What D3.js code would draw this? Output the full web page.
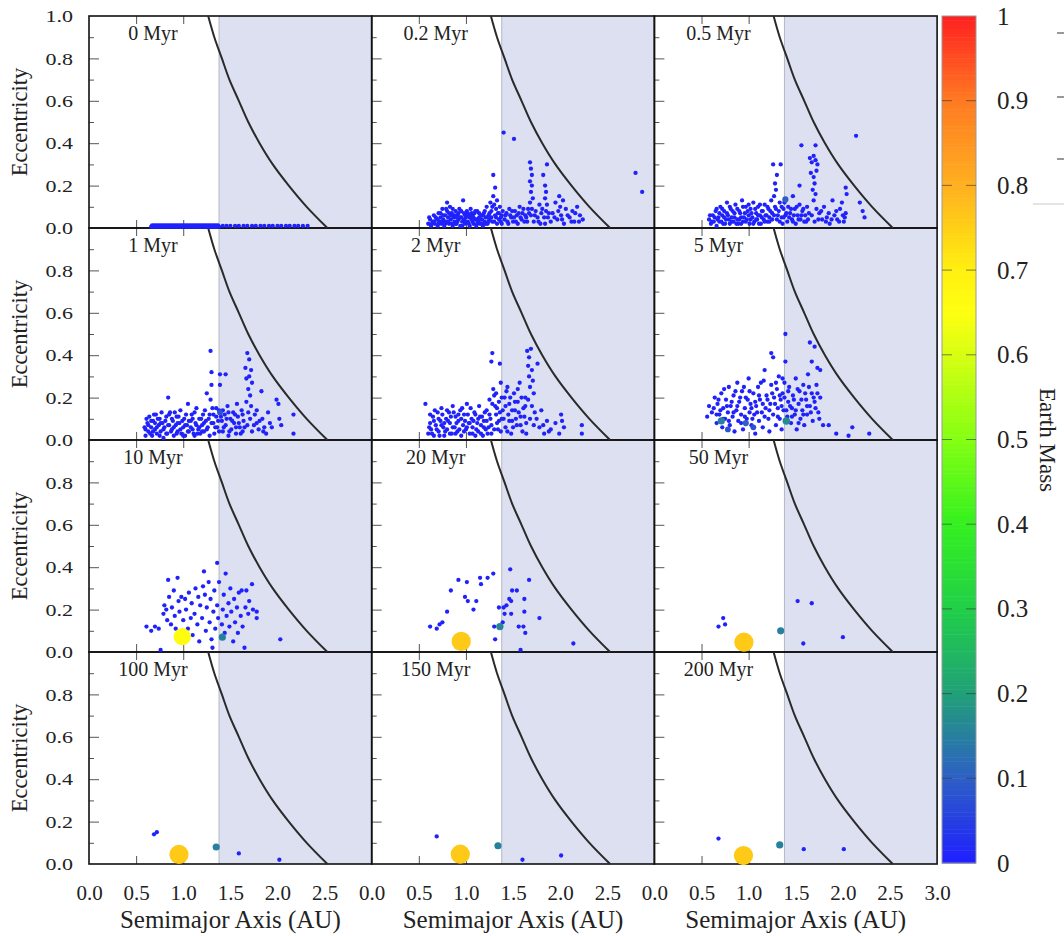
<!DOCTYPE html>
<html>
<head>
<meta charset="utf-8">
<script src="https://cdn.jsdelivr.net/npm/d3@7"></script>
<style>
  body { margin: 0; background: #fff; }
</style>
</head>
<body>
<div class="chart"></div>
<script>
// panel titles, row by row
var panelLabels = ["0 Myr", "0.2 Myr", "0.5 Myr", "1 Myr", "2 Myr", "5 Myr",
                   "10 Myr", "20 Myr", "50 Myr", "100 Myr", "150 Myr", "200 Myr"];

// small bodies [a (AU), e] per snapshot
var p0 = [[0.66,0.006],[0.67,0.012],[0.68,0.006],[0.69,0.012],[0.70,0.006],[0.71,0.012],[0.72,0.006],[0.73,0.012],[0.74,0.006],[0.75,0.012],
  [0.76,0.006],[0.77,0.012],[0.78,0.006],[0.79,0.012],[0.80,0.006],[0.81,0.012],[0.82,0.006],[0.83,0.012],[0.84,0.006],[0.85,0.012],
  [0.86,0.006],[0.87,0.012],[0.88,0.006],[0.89,0.012],[0.90,0.006],[0.91,0.012],[0.92,0.006],[0.93,0.012],[0.94,0.006],[0.95,0.012],
  [0.96,0.006],[0.97,0.012],[0.98,0.006],[0.99,0.012],[1.00,0.006],[1.01,0.012],[1.02,0.006],[1.03,0.012],[1.04,0.006],[1.05,0.012],
  [1.06,0.006],[1.07,0.012],[1.08,0.006],[1.09,0.012],[1.10,0.006],[1.11,0.012],[1.12,0.006],[1.13,0.012],[1.14,0.006],[1.15,0.012],
  [1.16,0.006],[1.17,0.012],[1.18,0.006],[1.19,0.012],[1.20,0.006],[1.21,0.012],[1.22,0.006],[1.23,0.012],[1.24,0.006],[1.25,0.012],
  [1.26,0.006],[1.27,0.012],[1.28,0.006],[1.29,0.012],[1.30,0.006],[1.31,0.012],[1.32,0.006],[1.33,0.012],[1.34,0.006],[1.35,0.012],
  [1.36,0.006],[1.37,0.012],[1.38,0.006],
  [1.42,0.01],[1.46,0.01],[1.50,0.01],[1.55,0.01],[1.59,0.01],[1.64,0.01],[1.68,0.01],[1.73,0.01],[1.77,0.01],[1.82,0.01],
  [1.86,0.01],[1.91,0.01],[1.95,0.01],[2.00,0.01],[2.04,0.01],[2.09,0.01],[2.13,0.01],[2.18,0.01],[2.22,0.01],[2.27,0.01],[2.32,0.01]];

var p02 = [[0.60,0.02],[0.62,0.04],[0.63,0.01],[0.65,0.03],[0.66,0.06],[0.67,0.02],[0.69,0.04],[0.70,0.01],[0.71,0.07],[0.72,0.03],
  [0.73,0.05],[0.74,0.02],[0.75,0.09],[0.76,0.04],[0.77,0.01],[0.78,0.06],[0.79,0.03],[0.80,0.12],[0.80,0.08],[0.81,0.05],
  [0.82,0.02],[0.83,0.10],[0.84,0.04],[0.85,0.07],[0.86,0.01],[0.87,0.05],[0.88,0.03],[0.89,0.08],[0.90,0.02],[0.91,0.06],
  [0.92,0.04],[0.93,0.09],[0.94,0.01],[0.95,0.05],[0.96,0.03],[0.97,0.13],[0.98,0.07],[0.99,0.02],[1.00,0.05],[1.01,0.08],
  [1.02,0.03],[1.03,0.06],[1.04,0.01],[1.05,0.09],[1.06,0.04],[1.07,0.06],[1.08,0.02],[1.09,0.07],[1.10,0.04],[1.11,0.01],
  [1.12,0.08],[1.13,0.03],[1.14,0.05],[1.15,0.02],[1.16,0.06],[1.17,0.04],[1.18,0.01],[1.19,0.07],[1.20,0.03],[1.21,0.05],
  [1.22,0.10],[1.23,0.02],[1.24,0.06],[1.25,0.04],[1.26,0.12],[1.27,0.08],[1.28,0.03],[1.29,0.25],[1.29,0.15],[1.30,0.11],
  [1.31,0.19],[1.31,0.06],[1.32,0.09],[1.33,0.02],[1.34,0.07],[1.35,0.04],[1.36,0.10],[1.37,0.05],[1.38,0.02],[1.39,0.08],
  [1.40,0.45],[1.51,0.42],[1.41,0.04],[1.43,0.07],[1.45,0.02],[1.46,0.09],[1.48,0.05],[1.50,0.03],[1.52,0.08],[1.54,0.06],
  [1.55,0.02],[1.57,0.10],[1.59,0.04],[1.60,0.07],[1.62,0.03],[1.64,0.05],[1.66,0.09],
  [1.68,0.31],[1.69,0.28],[1.70,0.25],[1.68,0.22],[1.70,0.20],[1.69,0.17],[1.71,0.14],[1.68,0.12],[1.70,0.09],[1.69,0.06],[1.72,0.03],
  [1.74,0.08],[1.76,0.05],[1.78,0.11],[1.79,0.02],[1.80,0.07],
  [1.82,0.25],[1.86,0.30],[1.84,0.20],[1.85,0.17],[1.84,0.14],[1.86,0.11],[1.85,0.08],[1.87,0.05],[1.84,0.02],
  [1.92,0.07],[1.95,0.12],[1.97,0.04],[1.99,0.15],[2.00,0.10],[2.01,0.06],[2.03,0.13],[2.04,0.02],[2.06,0.09],
  [2.10,0.05],[2.13,0.08],[2.15,0.03],[2.18,0.10],[2.21,0.06],[2.24,0.04],[2.80,0.26],[2.87,0.17],
  [0.61,0.05],[0.64,0.02],[0.66,0.03],[0.68,0.05],[0.70,0.04],[0.71,0.02],[0.73,0.07],[0.75,0.03],[0.76,0.06],[0.78,0.02],
  [0.79,0.09],[0.81,0.03],[0.82,0.07],[0.84,0.06],[0.85,0.02],[0.86,0.09],[0.88,0.06],[0.89,0.02],[0.90,0.05],[0.91,0.03],
  [0.92,0.07],[0.94,0.05],[0.95,0.08],[0.96,0.01],[0.98,0.04],[0.99,0.06],[1.00,0.03],[1.02,0.07],[1.03,0.02],[1.04,0.05],
  [1.06,0.07],[1.07,0.03],[1.08,0.05],[1.10,0.08],[1.11,0.04],[1.12,0.02],[1.14,0.07],[1.15,0.04],[1.17,0.02],[1.18,0.06],
  [1.20,0.08],[1.21,0.02],[1.23,0.05],[1.24,0.03],[1.25,0.07],[1.27,0.05],[1.28,0.10],[1.30,0.03],[1.32,0.05],[1.33,0.13],
  [1.35,0.07],[1.37,0.03],[1.38,0.06],[1.42,0.06],[1.44,0.03],[1.47,0.06],[1.49,0.08],[1.51,0.05],[1.53,0.03],[1.56,0.07],
  [1.58,0.05],[1.61,0.09],[1.63,0.06],[1.65,0.03],[1.67,0.07],[1.73,0.06],[1.77,0.03],[1.81,0.09],[1.83,0.05],[1.88,0.07],
  [1.90,0.03],[1.94,0.05],[1.98,0.08],[2.02,0.04],[2.08,0.06],[2.12,0.03],[2.16,0.07],[2.20,0.03]];

var p05 = [[0.58,0.04],[0.60,0.02],[0.62,0.06],[0.63,0.03],[0.65,0.08],[0.66,0.01],[0.68,0.05],[0.69,0.03],[0.70,0.10],[0.72,0.06],
  [0.73,0.02],[0.74,0.08],[0.76,0.04],[0.77,0.12],[0.78,0.06],[0.80,0.02],[0.81,0.09],[0.82,0.05],[0.84,0.03],[0.85,0.07],
  [0.86,0.11],[0.88,0.04],[0.89,0.02],[0.90,0.08],[0.92,0.05],[0.93,0.13],[0.94,0.03],[0.96,0.07],[0.97,0.10],[0.98,0.04],
  [1.00,0.06],[1.01,0.02],[1.02,0.09],[1.04,0.05],[1.05,0.12],[1.06,0.03],[1.08,0.07],[1.09,0.04],[1.10,0.10],[1.12,0.06],
  [1.13,0.02],[1.14,0.08],[1.16,0.04],[1.17,0.11],[1.18,0.06],[1.20,0.03],[1.21,0.09],[1.22,0.05],[1.24,0.13],[1.25,0.07],
  [1.26,0.30],[1.34,0.30],[1.30,0.25],[1.28,0.21],[1.29,0.18],[1.27,0.15],[1.28,0.10],[1.30,0.04],[1.32,0.08],[1.33,0.12],
  [1.35,0.05],[1.36,0.02],[1.37,0.09],[1.39,0.06],
  [1.41,0.03],[1.42,0.10],[1.44,0.07],[1.46,0.04],[1.47,0.15],[1.49,0.09],[1.50,0.02],[1.52,0.06],[1.54,0.20],[1.54,0.11],
  [1.55,0.04],[1.56,0.39],[1.57,0.08],[1.59,0.03],[1.60,0.06],[1.62,0.10],[1.63,0.04],
  [1.65,0.33],[1.67,0.31],[1.69,0.34],[1.71,0.32],[1.73,0.30],[1.66,0.26],[1.69,0.24],[1.72,0.27],[1.71,0.39],[1.70,0.21],
  [1.68,0.18],[1.71,0.16],[1.69,0.13],[1.72,0.09],[1.67,0.06],[1.70,0.03],
  [1.75,0.07],[1.78,0.04],[1.80,0.10],[1.83,0.05],[1.86,0.02],[1.89,0.13],[1.91,0.06],[1.94,0.04],[1.97,0.09],[1.99,0.12],
  [2.01,0.03],[2.03,0.19],[2.04,0.16],[2.03,0.07],[2.02,0.05],[2.14,0.435],[2.18,0.12],[2.21,0.08],[2.23,0.05],
  [0.59,0.06],[0.61,0.03],[0.64,0.05],[0.66,0.09],[0.67,0.04],[0.69,0.07],[0.71,0.03],[0.72,0.09],[0.74,0.05],[0.75,0.02],
  [0.77,0.07],[0.79,0.04],[0.80,0.10],[0.82,0.03],[0.83,0.08],[0.85,0.05],[0.87,0.02],[0.88,0.09],[0.90,0.04],[0.91,0.07],
  [0.92,0.02],[0.94,0.10],[0.95,0.05],[0.97,0.03],[0.99,0.08],[1.00,0.11],[1.02,0.04],[1.03,0.07],[1.05,0.02],[1.07,0.09],
  [1.08,0.04],[1.10,0.06],[1.11,0.02],[1.12,0.11],[1.14,0.05],[1.15,0.08],[1.17,0.03],[1.19,0.06],[1.20,0.10],[1.22,0.03],
  [1.23,0.08],[1.25,0.04],[1.27,0.06],[1.29,0.09],[1.31,0.06],[1.33,0.03],[1.35,0.10],[1.37,0.05],[1.38,0.12],[1.40,0.07],
  [1.43,0.05],[1.45,0.09],[1.47,0.03],[1.48,0.06],[1.51,0.10],[1.53,0.04],[1.56,0.06],[1.58,0.09],[1.61,0.03],[1.64,0.07],
  [1.74,0.04],[1.77,0.08],[1.82,0.03],[1.85,0.07],[1.88,0.04],[1.93,0.08],[1.96,0.03],[2.00,0.06]];

var p1 = [[0.59,0.06],[0.60,0.02],[0.62,0.08],[0.63,0.04],[0.64,0.11],[0.66,0.06],[0.67,0.02],[0.68,0.09],[0.70,0.05],[0.71,0.12],
  [0.72,0.03],[0.74,0.07],[0.75,0.10],[0.76,0.04],[0.78,0.08],[0.79,0.01],[0.80,0.06],[0.82,0.11],[0.83,0.03],[0.84,0.20],
  [0.85,0.07],[0.86,0.13],[0.88,0.05],[0.89,0.09],[0.90,0.02],[0.92,0.07],[0.93,0.11],[0.94,0.04],[0.96,0.08],[0.97,0.14],
  [0.98,0.03],[1.00,0.06],[1.01,0.10],[1.02,0.02],[1.04,0.07],[1.05,0.17],[1.06,0.04],[1.08,0.09],[1.09,0.12],[1.10,0.05],
  [1.12,0.02],[1.13,0.08],[1.14,0.15],[1.16,0.05],[1.17,0.10],[1.18,0.03],[1.20,0.07],[1.21,0.12],[1.22,0.04],[1.24,0.09],
  [1.25,0.22],[1.26,0.06],[1.28,0.12],[1.29,0.42],[1.30,0.32],[1.30,0.26],[1.29,0.19],[1.31,0.15],[1.32,0.08],[1.33,0.03],
  [1.35,0.11],[1.36,0.06],[1.38,0.14],[1.39,0.31],[1.39,0.26],[1.45,0.31],
  [1.41,0.09],[1.42,0.04],[1.44,0.12],[1.45,0.07],[1.47,0.16],[1.48,0.02],[1.50,0.10],[1.51,0.05],[1.53,0.13],[1.54,0.08],
  [1.56,0.03],[1.57,0.17],[1.58,0.11],[1.60,0.06],[1.62,0.14],[1.63,0.04],[1.64,0.09],
  [1.66,0.34],[1.68,0.41],[1.70,0.38],[1.72,0.33],[1.67,0.29],[1.70,0.30],[1.73,0.27],[1.69,0.24],[1.71,0.21],[1.67,0.18],
  [1.72,0.16],[1.69,0.13],[1.71,0.10],[1.68,0.07],[1.73,0.04],
  [1.76,0.12],[1.78,0.08],[1.80,0.05],[1.83,0.23],[1.84,0.10],[1.86,0.06],[1.88,0.03],[1.90,0.13],[1.92,0.08],[1.99,0.19],
  [2.01,0.17],[2.02,0.10],[2.04,0.07],[2.17,0.12],[2.17,0.03],
  [0.60,0.05],[0.61,0.10],[0.63,0.07],[0.65,0.03],[0.66,0.09],[0.68,0.04],[0.69,0.12],[0.70,0.08],[0.72,0.06],[0.73,0.10],
  [0.75,0.02],[0.76,0.08],[0.77,0.13],[0.79,0.05],[0.81,0.09],[0.82,0.03],[0.84,0.07],[0.85,0.12],[0.87,0.04],[0.88,0.10],
  [0.90,0.06],[0.91,0.13],[0.93,0.03],[0.94,0.08],[0.95,0.11],[0.97,0.05],[0.99,0.09],[1.00,0.02],[1.02,0.07],[1.03,0.12],
  [1.05,0.04],[1.06,0.09],[1.08,0.06],[1.10,0.10],[1.11,0.03],[1.12,0.13],[1.14,0.07],[1.15,0.03],[1.17,0.06],[1.19,0.10],
  [1.20,0.04],[1.22,0.08],[1.23,0.14],[1.25,0.05],[1.27,0.10],[1.28,0.02],[1.30,0.08],[1.32,0.12],[1.34,0.06],[1.35,0.15],
  [1.37,0.09],[1.38,0.04],[1.40,0.11],[1.42,0.14],[1.43,0.06],[1.46,0.10],[1.48,0.13],[1.49,0.04],[1.52,0.09],[1.55,0.12],
  [1.56,0.06],[1.59,0.08],[1.61,0.03],[1.63,0.12],[1.65,0.06],[1.75,0.07],[1.78,0.14],[1.81,0.09],[1.85,0.04],[1.94,0.06]];

var p2 = [[0.57,0.17],[0.60,0.03],[0.62,0.08],[0.63,0.05],[0.65,0.11],[0.66,0.02],[0.68,0.07],[0.70,0.13],[0.71,0.04],[0.73,0.09],
  [0.74,0.15],[0.76,0.06],[0.77,0.02],[0.79,0.10],[0.80,0.05],[0.82,0.13],[0.83,0.08],[0.85,0.03],[0.86,0.16],[0.88,0.06],
  [0.89,0.11],[0.91,0.04],[0.92,0.09],[0.94,0.14],[0.95,0.02],[0.97,0.07],[0.98,0.12],[1.00,0.05],[1.01,0.17],[1.03,0.08],
  [1.04,0.03],[1.06,0.10],[1.07,0.06],[1.09,0.13],[1.10,0.02],[1.12,0.08],[1.13,0.04],[1.15,0.11],[1.16,0.07],[1.18,0.02],
  [1.19,0.09],[1.21,0.05],[1.22,0.14],[1.24,0.06],[1.25,0.19],[1.26,0.10],[1.27,0.03],[1.28,0.41],[1.27,0.37],[1.29,0.24],
  [1.30,0.21],[1.31,0.16],[1.32,0.12],[1.33,0.08],[1.34,0.05],[1.35,0.18],[1.36,0.36],[1.37,0.27],[1.38,0.10],[1.39,0.14],
  [1.41,0.20],[1.42,0.06],[1.44,0.25],[1.45,0.12],[1.46,0.17],[1.48,0.03],[1.49,0.09],[1.51,0.22],[1.52,0.14],[1.54,0.07],
  [1.55,0.18],[1.57,0.27],[1.58,0.11],[1.60,0.04],[1.61,0.15],[1.63,0.20],[1.64,0.08],
  [1.65,0.42],[1.67,0.39],[1.69,0.43],[1.66,0.35],[1.70,0.33],[1.67,0.30],[1.71,0.28],[1.68,0.25],[1.72,0.22],[1.66,0.19],
  [1.70,0.16],[1.73,0.13],[1.68,0.10],[1.76,0.36],
  [1.78,0.06],[1.80,0.14],[1.83,0.03],[1.86,0.09],[1.90,0.05],[1.95,0.08],[1.99,0.03],[2.01,0.12],[2.02,0.09],[2.04,0.06],
  [2.23,0.07],[2.23,0.03],
  [0.61,0.06],[0.62,0.12],[0.64,0.03],[0.66,0.09],[0.67,0.14],[0.69,0.05],[0.71,0.10],[0.72,0.02],[0.74,0.07],[0.75,0.12],
  [0.77,0.08],[0.78,0.04],[0.80,0.14],[0.81,0.09],[0.83,0.03],[0.84,0.11],[0.86,0.06],[0.87,0.13],[0.89,0.03],[0.90,0.08],
  [0.92,0.12],[0.93,0.05],[0.95,0.10],[0.96,0.15],[0.98,0.04],[0.99,0.09],[1.01,0.06],[1.02,0.12],[1.04,0.08],[1.05,0.15],
  [1.07,0.03],[1.08,0.09],[1.10,0.12],[1.11,0.05],[1.13,0.10],[1.14,0.16],[1.16,0.03],[1.17,0.11],[1.19,0.06],[1.20,0.13],
  [1.22,0.09],[1.23,0.03],[1.25,0.12],[1.27,0.07],[1.28,0.17],[1.30,0.05],[1.32,0.22],[1.33,0.15],[1.35,0.09],[1.36,0.13],
  [1.37,0.04],[1.38,0.20],[1.40,0.10],[1.42,0.16],[1.43,0.23],[1.44,0.04],[1.46,0.09],[1.47,0.20],[1.49,0.14],[1.50,0.06],
  [1.52,0.18],[1.53,0.10],[1.55,0.24],[1.56,0.13],[1.58,0.07],[1.59,0.20],[1.62,0.11],[1.63,0.16],[1.64,0.03],[1.72,0.07],
  [1.75,0.10],[1.82,0.07],[1.88,0.04]];

var p5 = [[0.56,0.11],[0.58,0.16],[0.61,0.13],[0.64,0.20],[0.66,0.08],[0.67,0.17],[0.69,0.12],[0.71,0.22],[0.72,0.06],[0.73,0.15],
  [0.75,0.10],[0.76,0.19],[0.78,0.13],[0.79,0.25],[0.80,0.07],[0.81,0.16],[0.83,0.11],[0.84,0.21],[0.85,0.04],[0.87,0.14],
  [0.88,0.27],[0.89,0.09],[0.90,0.18],[0.92,0.12],[0.93,0.23],[0.94,0.05],[0.96,0.15],[0.97,0.20],[0.98,0.10],[1.00,0.29],
  [1.01,0.13],[1.02,0.17],[1.03,0.07],[1.05,0.22],[1.06,0.12],[1.07,0.03],[1.08,0.16],[1.10,0.25],[1.11,0.09],[1.12,0.19],
  [1.14,0.13],[1.15,0.06],[1.16,0.28],[1.17,0.33],[1.18,0.15],[1.19,0.21],[1.21,0.10],[1.22,0.04],[1.23,0.17],[1.24,0.41],
  [1.24,0.26],[1.26,0.39],[1.26,0.12],[1.27,0.20],[1.29,0.07],[1.30,0.24],[1.31,0.15],[1.32,0.30],[1.33,0.10],[1.34,0.19],
  [1.35,0.05],[1.36,0.22],[1.37,0.14],[1.38,0.27],[1.39,0.50],[1.39,0.37],
  [1.41,0.11],[1.42,0.18],[1.43,0.25],[1.45,0.08],[1.46,0.15],[1.47,0.21],[1.49,0.12],[1.50,0.29],[1.51,0.05],[1.53,0.17],
  [1.54,0.23],[1.55,0.10],[1.57,0.14],[1.58,0.26],[1.59,0.07],[1.61,0.19],[1.62,0.12],[1.63,0.31],[1.65,0.46],[1.65,0.16],
  [1.67,0.37],[1.67,0.22],[1.68,0.09],[1.70,0.44],[1.70,0.18],[1.72,0.26],[1.73,0.34],[1.74,0.13],[1.76,0.33],[1.76,0.20],
  [1.79,0.07],[1.85,0.07],[1.93,0.03],[2.06,0.02],[2.10,0.06],[2.28,0.03],
  [0.63,0.15],[0.66,0.12],[0.68,0.19],[0.70,0.14],[0.73,0.10],[0.74,0.24],[0.77,0.16],[0.79,0.09],[0.82,0.18],[0.84,0.13],
  [0.86,0.23],[0.88,0.16],[0.91,0.20],[0.92,0.08],[0.95,0.25],[0.96,0.11],[0.99,0.19],[1.01,0.23],[1.03,0.15],[1.04,0.10],
  [1.07,0.18],[1.09,0.13],[1.11,0.21],[1.13,0.27],[1.15,0.17],[1.17,0.11],[1.20,0.19],[1.22,0.14],[1.25,0.22],[1.28,0.17],
  [1.29,0.27],[1.31,0.11],[1.33,0.21],[1.35,0.16],[1.36,0.29],[1.38,0.20],[1.40,0.14],[1.42,0.23],[1.44,0.16],[1.46,0.11],
  [1.48,0.19],[1.50,0.14],[1.52,0.24],[1.53,0.08],[1.56,0.19],[1.58,0.12],[1.60,0.22],[1.62,0.16],[1.64,0.25],[1.66,0.13],
  [1.69,0.20],[1.71,0.15],[1.73,0.22],[1.75,0.10]];

var p10 = [[0.61,0.12],[0.66,0.10],[0.70,0.12],[0.74,0.11],[0.76,0.01],[0.79,0.18],[0.80,0.22],[0.82,0.20],[0.83,0.15],[0.84,0.34],
  [0.85,0.26],[0.87,0.13],[0.88,0.21],[0.90,0.29],[0.91,0.17],[0.92,0.11],[0.94,0.35],[0.95,0.24],[0.96,0.19],[0.98,0.26],
  [1.00,0.15],[1.02,0.25],[1.03,0.20],[1.05,0.11],[1.06,0.28],[1.08,0.16],[1.09,0.23],[1.10,0.08],[1.12,0.18],[1.13,0.30],
  [1.15,0.13],[1.16,0.26],[1.17,0.05],[1.18,0.22],[1.20,0.16],[1.21,0.31],[1.22,0.38],[1.23,0.27],[1.24,0.10],[1.25,0.21],
  [1.27,0.33],[1.28,0.14],[1.29,0.25],[1.30,0.06],[1.31,0.02],[1.32,0.19],[1.33,0.29],[1.34,0.11],[1.36,0.42],[1.36,0.22],
  [1.37,0.16],[1.38,0.33],
  [1.41,0.13],[1.42,0.20],[1.43,0.27],[1.44,0.09],[1.45,0.37],[1.46,0.17],[1.48,0.23],[1.49,0.12],[1.50,0.30],[1.51,0.19],
  [1.53,0.05],[1.54,0.25],[1.55,0.14],[1.57,0.21],[1.58,0.09],[1.59,0.28],[1.61,0.17],[1.62,0.29],[1.63,0.12],[1.65,0.02],
  [1.66,0.21],[1.67,0.29],[1.69,0.18],[1.70,0.24],[1.73,0.32],[1.74,0.20],[1.78,0.19],[1.78,0.16],[2.03,0.06]];

var p20 = [[0.62,0.12],[0.69,0.11],[0.72,0.13],[0.75,0.14],[0.80,0.19],[0.84,0.29],[0.92,0.34],[0.99,0.26],[1.01,0.33],[1.02,0.24],
  [1.08,0.20],[1.11,0.24],[1.15,0.35],[1.16,0.32],[1.23,0.35],[1.29,0.37],[1.30,0.12],[1.31,0.06],[1.35,0.21],[1.39,0.14],
  [1.41,0.18],[1.40,0.21],[1.43,0.22],[1.46,0.25],[1.47,0.39],[1.48,0.18],[1.49,0.29],[1.48,0.24],[1.54,0.29],[1.56,0.12],
  [1.58,0.01],[1.61,0.12],[1.62,0.19],[1.62,0.25],[1.63,0.09],[1.67,0.34],[1.78,0.16],[2.14,0.04]];

var p50 = [[0.68,0.12],[0.73,0.16],[0.75,0.13],[1.52,0.24],[1.67,0.23],[1.58,0.04],[2.00,0.07]];
var p100 = [[0.69,0.14],[0.72,0.15],[1.59,0.05],[2.02,0.02]];
var p150 = [[0.69,0.13],[1.60,0.02],[2.01,0.04]];
var p200 = [[0.68,0.12],[1.585,0.07],[2.01,0.07]];

var panelPoints = [p0, p02, p05, p1, p2, p5, p10, p20, p50, p100, p150, p200];
var smallMass = 0.005;

// larger bodies: [panel index, a, e, mass (Earth masses)]
var embryos = [
  [2, 1.39, 0.135, 0.10],
  [3, 1.39, 0.13, 0.08],
  [5, 0.71, 0.09, 0.15], [5, 0.97, 0.08, 0.10], [5, 1.40, 0.09, 0.17], [5, 0.78, 0.05, 0.08], [5, 1.05, 0.06, 0.08],
  [6, 0.99, 0.072, 0.66], [6, 1.415, 0.07, 0.15],
  [7, 0.95, 0.05, 0.76], [7, 1.36, 0.12, 0.16],
  [8, 0.95, 0.046, 0.76], [8, 1.34, 0.10, 0.15],
  [9, 0.955, 0.045, 0.76], [9, 1.35, 0.08, 0.15],
  [10, 0.94, 0.046, 0.76], [10, 1.34, 0.086, 0.15],
  [11, 0.945, 0.04, 0.76], [11, 1.33, 0.09, 0.15]
];

// stability boundary curve
var curveE = [0, 0.1, 0.2, 0.3, 0.4, 0.5, 0.6, 0.7, 0.8, 0.9, 1.0];
var curveA = [2.53, 2.31, 2.12, 1.95, 1.81, 1.69, 1.59, 1.49, 1.41, 1.33, 1.265];
var shadeStart = 1.38;

// colour bar
var massStops = [0, 0.1, 0.2, 0.3, 0.4, 0.5, 0.6, 0.65, 0.7, 0.75, 0.8, 0.9, 1.0];
var massColors = ["#1f1fff", "#2e5fc6", "#21a078", "#20cf48", "#34f020", "#84ff12", "#d6ff12",
                  "#ffff10", "#fff010", "#ffd015", "#ffb020", "#ff7a22", "#ff2020"];
var cbTicks = [0, 0.1, 0.2, 0.3, 0.4, 0.5, 0.6, 0.7, 0.8, 0.9, 1];

var xTickVals = [0, 0.5, 1.0, 1.5, 2.0, 2.5];
var xTickValsLast = [0, 0.5, 1.0, 1.5, 2.0, 2.5, 3.0];
var yMajor = [0.2, 0.4, 0.6, 0.8];
var yMinor = [0.1, 0.3, 0.5, 0.7, 0.9];

// Set Up layout
var svgWidth = 1064;
var svgHeight = 936;
var left0 = 89, top0 = 16, colW = 282.7, rowH = 212;
var serif = "'Liberation Serif', 'Times New Roman', Times, serif";

var svg = d3.select(".chart").append("svg")
  .attr("width", svgWidth)
  .attr("height", svgHeight)
  .style("font-family", serif);

var colorScale = d3.scaleLinear().domain(massStops).range(massColors).clamp(true);
var rScale = d3.scaleLinear().domain([0, 1]).range([2.1, 12]);

var bgLayer = svg.append("g");
var tickLayer = svg.append("g");
var shadeLayer = svg.append("g");
var borderLayer = svg.append("g");
var curveLayer = svg.append("g");
var pointLayer = svg.append("g");
var labelLayer = svg.append("g");

function styleAxis(g, size) {
  g.select(".domain").remove();
  g.attr("font-size", size)
    .attr("color", "#222")
    .style("font-family", serif);
  g.selectAll("text").style("font-family", serif);
}

function addText(parent, size) {
  return parent.append("text")
    .style("font-family", serif)
    .attr("font-size", size)
    .attr("fill", "#222");
}

panelPoints.forEach(function(pts, i) {
  var col = i % 3, row = Math.floor(i / 3);
  var x = d3.scaleLinear().domain([0, 3]).range([left0 + col * colW, left0 + (col + 1) * colW]);
  var y = d3.scaleLinear().domain([0, 1]).range([top0 + (row + 1) * rowH, top0 + row * rowH]);

  bgLayer.append("rect")
    .attr("x", x(0)).attr("y", y(1))
    .attr("width", x(3) - x(0)).attr("height", y(0) - y(1))
    .attr("fill", "#fff");

  // inward ticks
  [[yMajor, 10], [yMinor, 5]].forEach(function(t) {
    tickLayer.append("g")
      .attr("transform", `translate(${x(0)},0)`)
      .call(d3.axisLeft(y).tickValues(t[0]).tickSize(-t[1]).tickFormat(""))
      .call(styleAxis, 10)
      .selectAll("line").attr("stroke", "#555");
  });
  tickLayer.append("g")
    .attr("transform", `translate(0,${y(0)})`)
    .call(d3.axisBottom(x).tickValues(xTickVals.slice(1)).tickSize(-8).tickFormat(""))
    .call(styleAxis, 10)
    .selectAll("line").attr("stroke", "#555");
  tickLayer.append("g")
    .attr("transform", `translate(0,${y(1)})`)
    .call(d3.axisTop(x).tickValues(xTickVals.slice(1)).tickSize(-8).tickFormat(""))
    .call(styleAxis, 10)
    .selectAll("line").attr("stroke", "#555");

  // shaded region beyond 1.38 AU
  shadeLayer.append("rect")
    .attr("x", x(shadeStart)).attr("y", y(1))
    .attr("width", x(3) - x(shadeStart)).attr("height", y(0) - y(1))
    .attr("fill", "#dce0f0");
  shadeLayer.append("line")
    .attr("x1", x(shadeStart)).attr("x2", x(shadeStart))
    .attr("y1", y(1)).attr("y2", y(0))
    .attr("stroke", "#b4b8c4").attr("stroke-width", 1);

  borderLayer.append("rect")
    .attr("x", x(0)).attr("y", y(1))
    .attr("width", x(3) - x(0)).attr("height", y(0) - y(1))
    .attr("fill", "none").attr("stroke", "#111").attr("stroke-width", 1.6);

  var line = d3.line()
    .x(function(d, k) { return x(curveA[k]); })
    .y(function(d) { return y(d); })
    .curve(d3.curveCatmullRom);
  curveLayer.append("path")
    .attr("d", line(curveE))
    .attr("fill", "none").attr("stroke", "#2a2a2a").attr("stroke-width", 2);

  pointLayer.append("g").selectAll("circle")
    .data(pts)
    .enter()
    .append("circle")
    .attr("cx", d => x(d[0]))
    .attr("cy", d => y(d[1]))
    .attr("r", rScale(smallMass))
    .attr("fill", colorScale(smallMass));

  pointLayer.append("g").selectAll("circle")
    .data(embryos.filter(d => d[0] === i))
    .enter()
    .append("circle")
    .attr("cx", d => x(d[1]))
    .attr("cy", d => y(d[2]))
    .attr("r", d => rScale(d[3]))
    .attr("fill", d => colorScale(d[3]));

  addText(labelLayer, 20)
    .attr("x", x(0) + 64).attr("y", y(1) + 24)
    .attr("text-anchor", "middle")
    .text(panelLabels[i]);

  // y tick labels on the left column (glyphs a bit squat, as in the original)
  if (col === 0) {
    labelLayer.append("g")
      .attr("transform", `translate(${x(0)},0)`)
      .call(d3.axisLeft(y)
        .tickValues(row === 0 ? [0, 0.2, 0.4, 0.6, 0.8, 1.0] : [0, 0.2, 0.4, 0.6, 0.8])
        .tickSize(0).tickPadding(16).tickFormat(d3.format(".1f")))
      .call(styleAxis, 22)
      .selectAll("text").attr("transform", "scale(1,0.8)");
    addText(labelLayer, 22.5)
      .attr("transform", `translate(27,${(y(0) + y(1)) / 2}) rotate(-90)`)
      .attr("text-anchor", "middle")
      .text("Eccentricity");
  }

  // x tick labels on the bottom row
  if (row === 3) {
    labelLayer.append("g")
      .attr("transform", `translate(0,${y(0)})`)
      .call(d3.axisBottom(x)
        .tickValues(col === 2 ? xTickValsLast : xTickVals)
        .tickSize(0).tickPadding(21).tickFormat(d3.format(".1f")))
      .call(styleAxis, 21);
    addText(labelLayer, 25)
      .attr("x", (x(0) + x(3)) / 2).attr("y", 928)
      .attr("text-anchor", "middle")
      .text("Semimajor Axis (AU)");
  }
});

// colour bar
var cbX = 942, cbW = 34;
var cbY = d3.scaleLinear().domain([0, 1]).range([863, 16]);
var bands = d3.range(0, 1, 0.005);
svg.append("g").selectAll("rect")
  .data(bands)
  .enter()
  .append("rect")
  .attr("x", cbX)
  .attr("y", d => cbY(d + 0.005))
  .attr("width", cbW)
  .attr("height", d => cbY(d) - cbY(d + 0.005) + 0.5)
  .attr("fill", d => colorScale(d + 0.0025));
svg.append("rect")
  .attr("x", cbX).attr("y", cbY(1))
  .attr("width", cbW).attr("height", cbY(0) - cbY(1))
  .attr("fill", "none").attr("stroke", "#999").attr("stroke-width", 1);

var cbInner = cbTicks.slice(1, -1);
svg.append("g").selectAll("line.l")
  .data(cbInner).enter().append("line")
  .attr("x1", cbX).attr("x2", cbX + 10)
  .attr("y1", d => cbY(d)).attr("y2", d => cbY(d))
  .attr("stroke", "#333").attr("stroke-opacity", 0.6);
svg.append("g").selectAll("line.r")
  .data(cbInner).enter().append("line")
  .attr("x1", cbX + cbW - 10).attr("x2", cbX + cbW)
  .attr("y1", d => cbY(d)).attr("y2", d => cbY(d))
  .attr("stroke", "#333").attr("stroke-opacity", 0.6);

svg.append("g")
  .attr("transform", `translate(${cbX + cbW},0)`)
  .call(d3.axisRight(cbY).tickValues(cbTicks).tickSize(0).tickPadding(21).tickFormat(d3.format("~g")))
  .call(styleAxis, 25);

addText(svg, 23)
  .attr("transform", "translate(1040,440) rotate(90)")
  .attr("text-anchor", "middle")
  .text("Earth Mass");

// stray frame fragment at the top right edge
svg.append("line").attr("x1", 1033).attr("x2", 1064).attr("y1", 204).attr("y2", 204)
  .attr("stroke", "#c8c8c8");
[33, 97, 159].forEach(function(v) {
  svg.append("line").attr("x1", 1057).attr("x2", 1064).attr("y1", v).attr("y2", v)
    .attr("stroke", "#333");
});
</script>
</body>
</html>
